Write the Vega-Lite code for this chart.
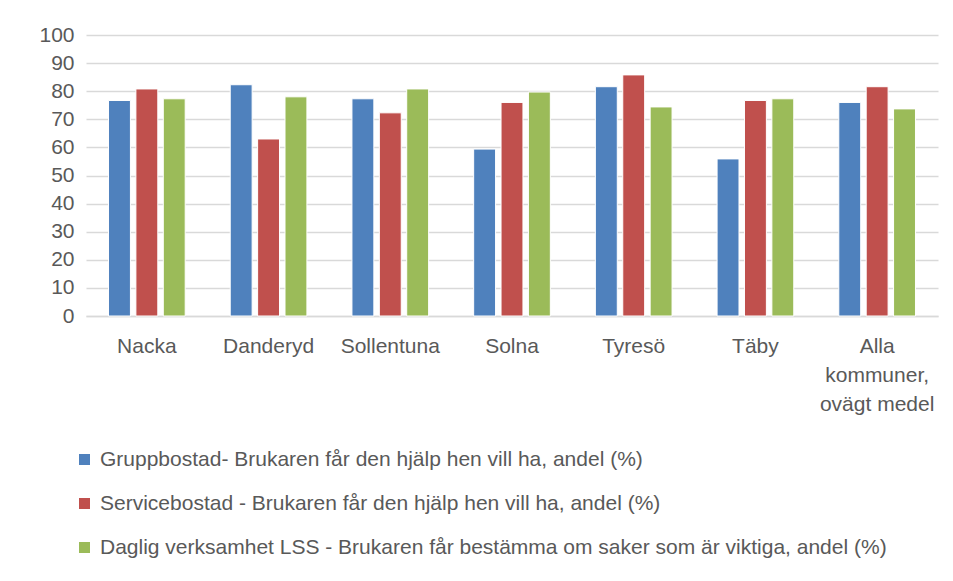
{
  "$schema": "https://vega.github.io/schema/vega-lite/v6.json",
  "autosize": "none",
  "width": 852,
  "height": 281,
  "padding": {"left": 86, "top": 35, "right": 15, "bottom": 265},
  "background": "white",
  "config": {
    "font": "Liberation Sans",
    "view": {"stroke": null},
    "axis": {"labelFont": "Liberation Sans", "labelColor": "#595959"}
  },
  "data": {
    "values": [
      {"kommun": "Nacka", "serie": "Gruppbostad- Brukaren får den hjälp hen vill ha, andel (%)", "v": 76.7},
      {"kommun": "Nacka", "serie": "Servicebostad - Brukaren får den hjälp hen vill ha, andel (%)", "v": 80.8},
      {"kommun": "Nacka", "serie": "Daglig verksamhet LSS  - Brukaren får bestämma om saker som är viktiga, andel (%)", "v": 77.3},
      {"kommun": "Danderyd", "serie": "Gruppbostad- Brukaren får den hjälp hen vill ha, andel (%)", "v": 82.3},
      {"kommun": "Danderyd", "serie": "Servicebostad - Brukaren får den hjälp hen vill ha, andel (%)", "v": 63.0},
      {"kommun": "Danderyd", "serie": "Daglig verksamhet LSS  - Brukaren får bestämma om saker som är viktiga, andel (%)", "v": 78.0},
      {"kommun": "Sollentuna", "serie": "Gruppbostad- Brukaren får den hjälp hen vill ha, andel (%)", "v": 77.3},
      {"kommun": "Sollentuna", "serie": "Servicebostad - Brukaren får den hjälp hen vill ha, andel (%)", "v": 72.3},
      {"kommun": "Sollentuna", "serie": "Daglig verksamhet LSS  - Brukaren får bestämma om saker som är viktiga, andel (%)", "v": 80.8},
      {"kommun": "Solna", "serie": "Gruppbostad- Brukaren får den hjälp hen vill ha, andel (%)", "v": 59.4},
      {"kommun": "Solna", "serie": "Servicebostad - Brukaren får den hjälp hen vill ha, andel (%)", "v": 76.0},
      {"kommun": "Solna", "serie": "Daglig verksamhet LSS  - Brukaren får bestämma om saker som är viktiga, andel (%)", "v": 79.7},
      {"kommun": "Tyresö", "serie": "Gruppbostad- Brukaren får den hjälp hen vill ha, andel (%)", "v": 81.6},
      {"kommun": "Tyresö", "serie": "Servicebostad - Brukaren får den hjälp hen vill ha, andel (%)", "v": 85.8},
      {"kommun": "Tyresö", "serie": "Daglig verksamhet LSS  - Brukaren får bestämma om saker som är viktiga, andel (%)", "v": 74.4},
      {"kommun": "Täby", "serie": "Gruppbostad- Brukaren får den hjälp hen vill ha, andel (%)", "v": 55.9},
      {"kommun": "Täby", "serie": "Servicebostad - Brukaren får den hjälp hen vill ha, andel (%)", "v": 76.7},
      {"kommun": "Täby", "serie": "Daglig verksamhet LSS  - Brukaren får bestämma om saker som är viktiga, andel (%)", "v": 77.3},
      {"kommun": "Alla kommuner, ovägt medel", "serie": "Gruppbostad- Brukaren får den hjälp hen vill ha, andel (%)", "v": 76.0},
      {"kommun": "Alla kommuner, ovägt medel", "serie": "Servicebostad - Brukaren får den hjälp hen vill ha, andel (%)", "v": 81.6},
      {"kommun": "Alla kommuner, ovägt medel", "serie": "Daglig verksamhet LSS  - Brukaren får bestämma om saker som är viktiga, andel (%)", "v": 73.7}
    ]
  },
  "mark": {"type": "bar", "stroke": "white", "strokeWidth": 1},
  "encoding": {
    "x": {
      "field": "kommun", "type": "nominal", "sort": null, "title": null,
      "scale": {"paddingInner": 0.37, "paddingOuter": 0.185},
      "axis": {
        "labelAngle": 0, "labelFontSize": 21, "labelPadding": 19, "ticks": false,
        "domainColor": "#d9d9d9", "domainWidth": 1.5, "labelLineHeight": 29,
        "labelExpr": "datum.value == 'Alla kommuner, ovägt medel' ? ['Alla', 'kommuner,', 'ovägt medel'] : datum.value"
      }
    },
    "xOffset": {
      "field": "serie", "type": "nominal", "sort": null,
      "scale": {"paddingInner": 0.2}
    },
    "y": {
      "field": "v", "type": "quantitative", "title": null,
      "scale": {"domain": [0, 100], "nice": false},
      "axis": {
        "values": [0,10,20,30,40,50,60,70,80,90,100],
        "labelFontSize": 21, "labelPadding": 12, "ticks": false, "domain": false,
        "gridColor": "#d9d9d9", "gridWidth": 1.5
      }
    },
    "color": {
      "field": "serie", "type": "nominal", "sort": null, "title": null,
      "scale": {"range": ["#4f81bd", "#c0504d", "#9bbb59"]},
      "legend": {
        "orient": "none", "legendX": -12, "legendY": 414, "direction": "vertical",
        "symbolType": "square", "symbolSize": 121, "symbolStrokeWidth": 0,
        "labelFontSize": 21, "labelColor": "#595959", "labelOffset": 5,
        "labelLimit": 900, "rowPadding": 22
      }
    }
  }
}
